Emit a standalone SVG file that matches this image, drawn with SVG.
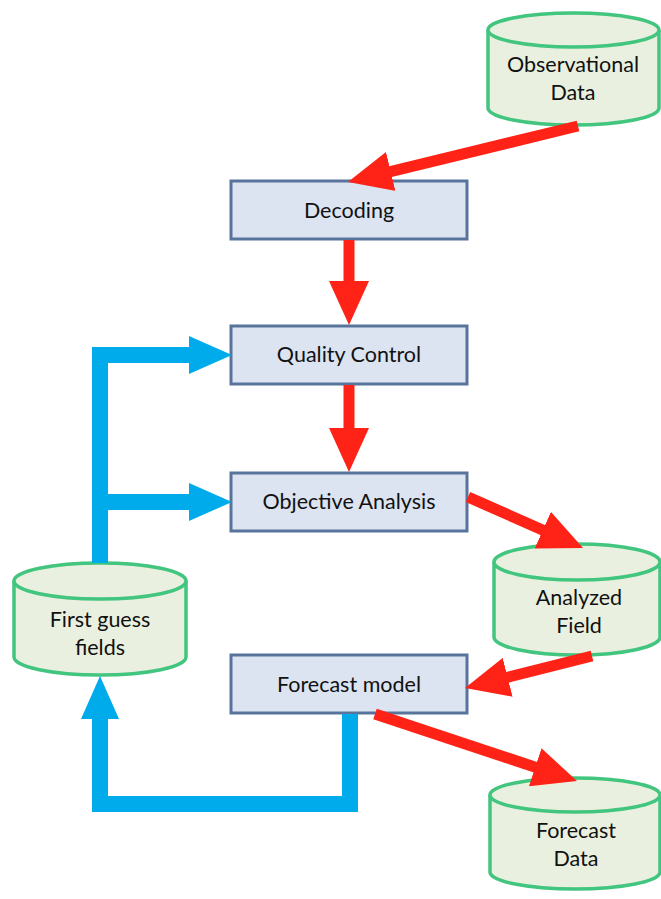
<svg xmlns="http://www.w3.org/2000/svg" width="661" height="899" viewBox="0 0 661 899">
<style>
.box{fill:#DCE3F1;stroke:#58749C;stroke-width:3}
.cyl{fill:#EAF0DF;stroke:#42C57E;stroke-width:3.5}
.lbl{font-family:Lato,"Liberation Sans",sans-serif;font-size:21.5px;fill:#111;text-anchor:middle}
.red{stroke:#FF2216;stroke-width:11;fill:none}
.blue{stroke:#00ABEB;stroke-width:16;fill:none;stroke-linejoin:miter}
</style>
<defs>
<marker id="rh" markerUnits="userSpaceOnUse" viewBox="0 0 44 40" refX="14" refY="20" markerWidth="44" markerHeight="40" orient="auto">
<path d="M0,0 L44,20 L0,40 Z" fill="#FF2216"/>
</marker>
<marker id="bh" markerUnits="userSpaceOnUse" viewBox="0 0 43 38" refX="13" refY="19" markerWidth="43" markerHeight="38" orient="auto">
<path d="M0,0 L43,19 L0,38 Z" fill="#00ABEB"/>
</marker>
</defs>
<g id="obs">
<path class="cyl" d="M488,30 A85.5,17 0 0 1 659,30 V108 A85.5,17 0 0 1 488,108 Z"/>
<path class="cyl" d="M488,30 A85.5,17 0 0 0 659,30" fill="none"/>
<text class="lbl" x="573" y="72">Observational</text>
<text class="lbl" x="573" y="100">Data</text>
</g>
<g id="decoding">
<rect class="box" x="231" y="181" width="236" height="58"/>
<text class="lbl" x="349" y="218">Decoding</text>
</g>
<g id="qc">
<rect class="box" x="231" y="326" width="236" height="58"/>
<text class="lbl" x="349" y="362">Quality Control</text>
</g>
<g id="oa">
<rect class="box" x="231" y="473" width="236" height="58"/>
<text class="lbl" x="349" y="509">Objective Analysis</text>
</g>
<g id="analyzed">
<path class="cyl" d="M494,562 A83,18 0 0 1 660,562 V637 A83,18 0 0 1 494,637 Z"/>
<path class="cyl" d="M494,562 A83,18 0 0 0 660,562" fill="none"/>
<text class="lbl" x="579" y="605">Analyzed</text>
<text class="lbl" x="579" y="633">Field</text>
</g>
<g id="firstguess">
<path class="cyl" d="M14,581 A86,18 0 0 1 186,581 V657 A86,18 0 0 1 14,657 Z"/>
<path class="cyl" d="M14,581 A86,18 0 0 0 186,581" fill="none"/>
<text class="lbl" x="100" y="627">First guess</text>
<text class="lbl" x="100" y="655">fields</text>
</g>
<g id="forecastmodel">
<rect class="box" x="231" y="655" width="236" height="58"/>
<text class="lbl" x="349" y="692">Forecast model</text>
</g>
<g id="forecastdata">
<path class="cyl" d="M490,795 A85,17 0 0 1 660,795 V872 A85,17 0 0 1 490,872 Z"/>
<path class="cyl" d="M490,795 A85,17 0 0 0 660,795" fill="none"/>
<text class="lbl" x="576" y="838">Forecast</text>
<text class="lbl" x="576" y="866">Data</text>
</g>
<g id="connectors">
<line class="red" x1="578" y1="126" x2="377.1" y2="174.8" marker-end="url(#rh)"/>
<line class="red" x1="349" y1="240" x2="349" y2="295" marker-end="url(#rh)"/>
<line class="red" x1="349" y1="385" x2="349" y2="442" marker-end="url(#rh)"/>
<line class="red" x1="468" y1="497" x2="555.6" y2="535.8" marker-end="url(#rh)"/>
<line class="red" x1="592" y1="656" x2="494.1" y2="680.7" marker-end="url(#rh)"/>
<line class="red" x1="375" y1="714" x2="548.5" y2="771.6" marker-end="url(#rh)"/>
<path class="blue" d="M100,563 V355 H202" marker-end="url(#bh)"/>
<path class="blue" d="M100,502 H202" marker-end="url(#bh)"/>
<path class="blue" d="M350,714 V804 H100 V706" marker-end="url(#bh)"/>
</g>
</svg>
